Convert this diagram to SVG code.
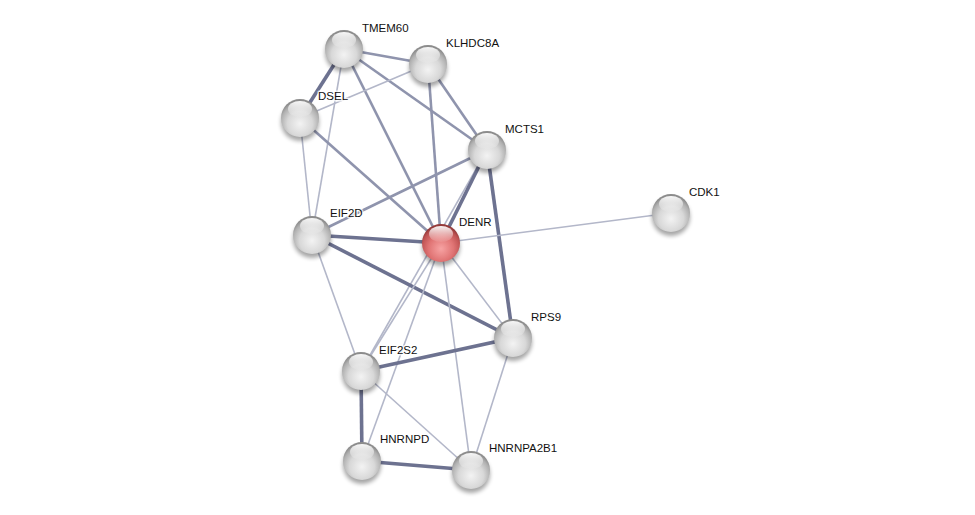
<svg xmlns="http://www.w3.org/2000/svg" width="975" height="515" viewBox="0 0 975 515">
<style>
.e1{stroke:#b3b7c9;stroke-width:1.6;fill:none}
.e2{stroke:#8f94ad;stroke-width:2.6;fill:none}
.e3{stroke:#6d7290;stroke-width:3.6;fill:none}
.lbl{font-family:"Liberation Sans",Arial,sans-serif;font-size:11.5px;fill:#111111;stroke:#ffffff;stroke-opacity:0.75;stroke-width:3;paint-order:stroke;stroke-linejoin:round}
.sh{fill:#000;opacity:0.35;filter:url(#blur)}
.hl{fill:url(#hl)}
</style>
<defs>
<filter id="blur" x="-50%" y="-50%" width="200%" height="200%"><feGaussianBlur stdDeviation="2"/></filter>
<radialGradient id="gw" cx="0.5" cy="0.65" r="0.6">
<stop offset="0" stop-color="#f3f3f3"/>
<stop offset="0.55" stop-color="#d8d8d8"/>
<stop offset="0.85" stop-color="#b0b0b0"/>
<stop offset="1" stop-color="#8c8c8c"/>
</radialGradient>
<radialGradient id="gr" cx="0.5" cy="0.65" r="0.6">
<stop offset="0" stop-color="#f7a3a3"/>
<stop offset="0.55" stop-color="#e07474"/>
<stop offset="0.85" stop-color="#c05454"/>
<stop offset="1" stop-color="#953a3a"/>
</radialGradient>
<linearGradient id="hl" x1="0" y1="0" x2="0" y2="1">
<stop offset="0" stop-color="#ffffff" stop-opacity="0.95"/>
<stop offset="1" stop-color="#ffffff" stop-opacity="0.05"/>
</linearGradient>
</defs>
<rect width="975" height="515" fill="#ffffff"/>
<g id="edges">
<line class="e2" x1="344" y1="49" x2="428" y2="64"/>
<line class="e3" x1="344" y1="49" x2="300" y2="118"/>
<line class="e2" x1="344" y1="49" x2="487" y2="150"/>
<line class="e2" x1="344" y1="49" x2="441" y2="243"/>
<line class="e1" x1="344" y1="49" x2="312" y2="235"/>
<line class="e1" x1="428" y1="64" x2="300" y2="118"/>
<line class="e2" x1="428" y1="64" x2="487" y2="150"/>
<line class="e2" x1="428" y1="64" x2="441" y2="243"/>
<line class="e1" x1="300" y1="118" x2="312" y2="235"/>
<line class="e2" x1="300" y1="118" x2="441" y2="243"/>
<line class="e2" x1="487" y1="150" x2="312" y2="235"/>
<line class="e1" x1="487" y1="150" x2="361" y2="371"/>
<line class="e3" x1="487" y1="150" x2="441" y2="243"/>
<line class="e3" x1="487" y1="150" x2="513" y2="338"/>
<line class="e1" x1="671" y1="213" x2="441" y2="243"/>
<line class="e3" x1="312" y1="235" x2="441" y2="243"/>
<line class="e3" x1="312" y1="235" x2="513" y2="338"/>
<line class="e1" x1="312" y1="235" x2="361" y2="371"/>
<line class="e1" x1="441" y1="243" x2="513" y2="338"/>
<line class="e1" x1="441" y1="243" x2="361" y2="371"/>
<line class="e1" x1="441" y1="243" x2="362" y2="461"/>
<line class="e1" x1="441" y1="243" x2="471" y2="470"/>
<line class="e3" x1="513" y1="338" x2="361" y2="371"/>
<line class="e1" x1="513" y1="338" x2="471" y2="470"/>
<line class="e3" x1="361" y1="371" x2="362" y2="461"/>
<line class="e1" x1="361" y1="371" x2="471" y2="470"/>
<line class="e3" x1="362" y1="461" x2="471" y2="470"/>
</g>
<g id="TMEM60">
<ellipse class="sh" cx="344" cy="53" rx="19" ry="19"/>
<circle cx="344" cy="49" r="19" fill="url(#gw)"/>
<ellipse class="hl" cx="344" cy="40" rx="12" ry="8"/>
<text class="lbl" x="362" y="32">TMEM60</text>
</g>
<g id="KLHDC8A">
<ellipse class="sh" cx="428" cy="68" rx="19" ry="19"/>
<circle cx="428" cy="64" r="19" fill="url(#gw)"/>
<ellipse class="hl" cx="428" cy="55" rx="12" ry="8"/>
<text class="lbl" x="446" y="47">KLHDC8A</text>
</g>
<g id="DSEL">
<ellipse class="sh" cx="300" cy="122" rx="19" ry="19"/>
<circle cx="300" cy="118" r="19" fill="url(#gw)"/>
<ellipse class="hl" cx="300" cy="109" rx="12" ry="8"/>
<text class="lbl" x="318" y="100">DSEL</text>
</g>
<g id="MCTS1">
<ellipse class="sh" cx="487" cy="154" rx="19" ry="19"/>
<circle cx="487" cy="150" r="19" fill="url(#gw)"/>
<ellipse class="hl" cx="487" cy="141" rx="12" ry="8"/>
<text class="lbl" x="505" y="133">MCTS1</text>
</g>
<g id="CDK1">
<ellipse class="sh" cx="671" cy="217" rx="19" ry="19"/>
<circle cx="671" cy="213" r="19" fill="url(#gw)"/>
<ellipse class="hl" cx="671" cy="204" rx="12" ry="8"/>
<text class="lbl" x="689" y="196">CDK1</text>
</g>
<g id="EIF2D">
<ellipse class="sh" cx="312" cy="239" rx="19" ry="19"/>
<circle cx="312" cy="235" r="19" fill="url(#gw)"/>
<ellipse class="hl" cx="312" cy="226" rx="12" ry="8"/>
<text class="lbl" x="330" y="217">EIF2D</text>
</g>
<g id="DENR">
<ellipse class="sh" cx="441" cy="247" rx="19" ry="19"/>
<circle cx="441" cy="243" r="19" fill="url(#gr)"/>
<ellipse class="hl" cx="441" cy="234" rx="12" ry="8"/>
<text class="lbl" x="459" y="226">DENR</text>
</g>
<g id="RPS9">
<ellipse class="sh" cx="513" cy="342" rx="19" ry="19"/>
<circle cx="513" cy="338" r="19" fill="url(#gw)"/>
<ellipse class="hl" cx="513" cy="329" rx="12" ry="8"/>
<text class="lbl" x="531" y="321">RPS9</text>
</g>
<g id="EIF2S2">
<ellipse class="sh" cx="361" cy="375" rx="19" ry="19"/>
<circle cx="361" cy="371" r="19" fill="url(#gw)"/>
<ellipse class="hl" cx="361" cy="362" rx="12" ry="8"/>
<text class="lbl" x="379" y="354">EIF2S2</text>
</g>
<g id="HNRNPD">
<ellipse class="sh" cx="362" cy="465" rx="19" ry="19"/>
<circle cx="362" cy="461" r="19" fill="url(#gw)"/>
<ellipse class="hl" cx="362" cy="452" rx="12" ry="8"/>
<text class="lbl" x="380" y="443">HNRNPD</text>
</g>
<g id="HNRNPA2B1">
<ellipse class="sh" cx="471" cy="474" rx="19" ry="19"/>
<circle cx="471" cy="470" r="19" fill="url(#gw)"/>
<ellipse class="hl" cx="471" cy="461" rx="12" ry="8"/>
<text class="lbl" x="489" y="452">HNRNPA2B1</text>
</g>
</svg>
